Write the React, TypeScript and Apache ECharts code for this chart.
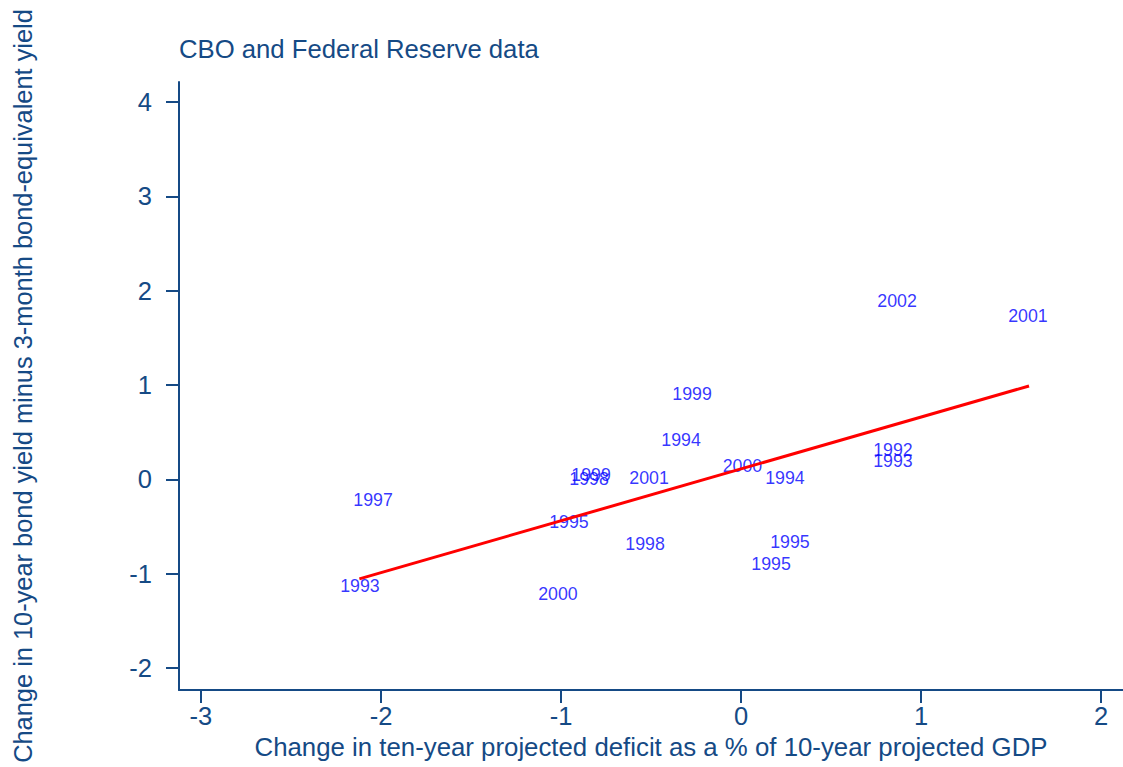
import React, { useEffect, useRef } from "react";
import * as echarts from "echarts";

const pointLabels = ["2002", "2001", "1999", "1994", "1992", "1993", "2000", "1994", "1999", "1998", "2001", "1997", "1995", "1998", "1995", "1995", "1993", "2000"];
const pointX = [0.867, 1.594, -0.272, -0.333, 0.844, 0.844, 0.008, 0.244, -0.833, -0.844, -0.511, -2.044, -0.956, -0.533, 0.272, 0.167, -2.117, -1.017];
const pointY = [1.89, 1.73, 0.904, 0.417, 0.31, 0.194, 0.141, 0.014, 0.045, 0.003, 0.014, -0.219, -0.453, -0.686, -0.665, -0.898, -1.13, -1.216];

const fitX = [-2.12, 1.6];
const fitY = [-1.055, 0.99];

const xTicks = [-3, -2, -1, 0, 1, 2];
const yTicks = [-2, -1, 0, 1, 2, 3, 4];

const titleText = "CBO and Federal Reserve data";
const xName = "Change in ten-year projected deficit as a % of 10-year projected GDP";
const yName = "Change in 10-year bond yield minus 3-month bond-equivalent yield";

const NAVY = "#154a85";
const FONT = "'Liberation Sans', Arial, sans-serif";

export default function App() {
  const ref = useRef<HTMLDivElement>(null);
  useEffect(() => {
    if (!ref.current) return;
    const chart = echarts.init(ref.current, null, { renderer: "svg" });
    const points = pointX.map((x, i) => ({ name: pointLabels[i], value: [x, pointY[i]] }));
    const fit = fitX.map((x, i) => [x, fitY[i]]);
    const axisCommon = {
      axisLine: { show: true, onZero: false, lineStyle: { color: NAVY, width: 2 } },
      axisTick: { show: true, length: 13, lineStyle: { color: NAVY, width: 2 } },
      splitLine: { show: false },
      nameLocation: "middle" as const,
    };
    chart.setOption({
      animation: false,
      backgroundColor: "#ffffff",
      title: {
        text: titleText,
        left: 179,
        top: 36,
        padding: 0,
        textStyle: { color: NAVY, fontSize: 25.7, fontWeight: "normal", fontFamily: FONT },
      },
      grid: { left: 179, right: 0, top: 82, bottom: 77, containLabel: false },
      xAxis: {
        type: "value",
        min: -3.122,
        max: 2.122,
        ...axisCommon,
        axisTick: { ...axisCommon.axisTick, customValues: xTicks },
        axisLabel: { color: NAVY, fontSize: 25.5, fontFamily: FONT, margin: 13, customValues: xTicks },
        name: xName,
        nameGap: 37,
        nameTextStyle: { color: NAVY, fontSize: 25.8, fontFamily: FONT },
      },
      yAxis: {
        type: "value",
        min: -2.233,
        max: 4.212,
        ...axisCommon,
        axisTick: { ...axisCommon.axisTick, customValues: yTicks },
        axisLabel: { color: NAVY, fontSize: 25.5, fontFamily: FONT, margin: 27, customValues: yTicks },
        name: yName,
        nameGap: 144,
        nameTextStyle: { color: NAVY, fontSize: 25.4, fontFamily: FONT },
      },
      series: [
        {
          type: "scatter",
          data: points,
          symbol: "circle",
          symbolSize: 1,
          itemStyle: { color: "rgba(0,0,0,0)" },
          label: {
            show: true,
            position: "inside",
            formatter: (p: any) => p.name,
            color: "#0000ff",
            fontSize: 17.8,
            fontFamily: FONT,
          },
          z: 3,
        },
        {
          type: "line",
          data: fit,
          showSymbol: false,
          symbol: "none",
          lineStyle: { color: "#ff0000", width: 3 },
          z: 4,
        },
      ],
    });
    return () => chart.dispose();
  }, []);
  return <div ref={ref} style={{ width: 1123, height: 767, position: "absolute", left: 0, top: 0 }} />;
}
